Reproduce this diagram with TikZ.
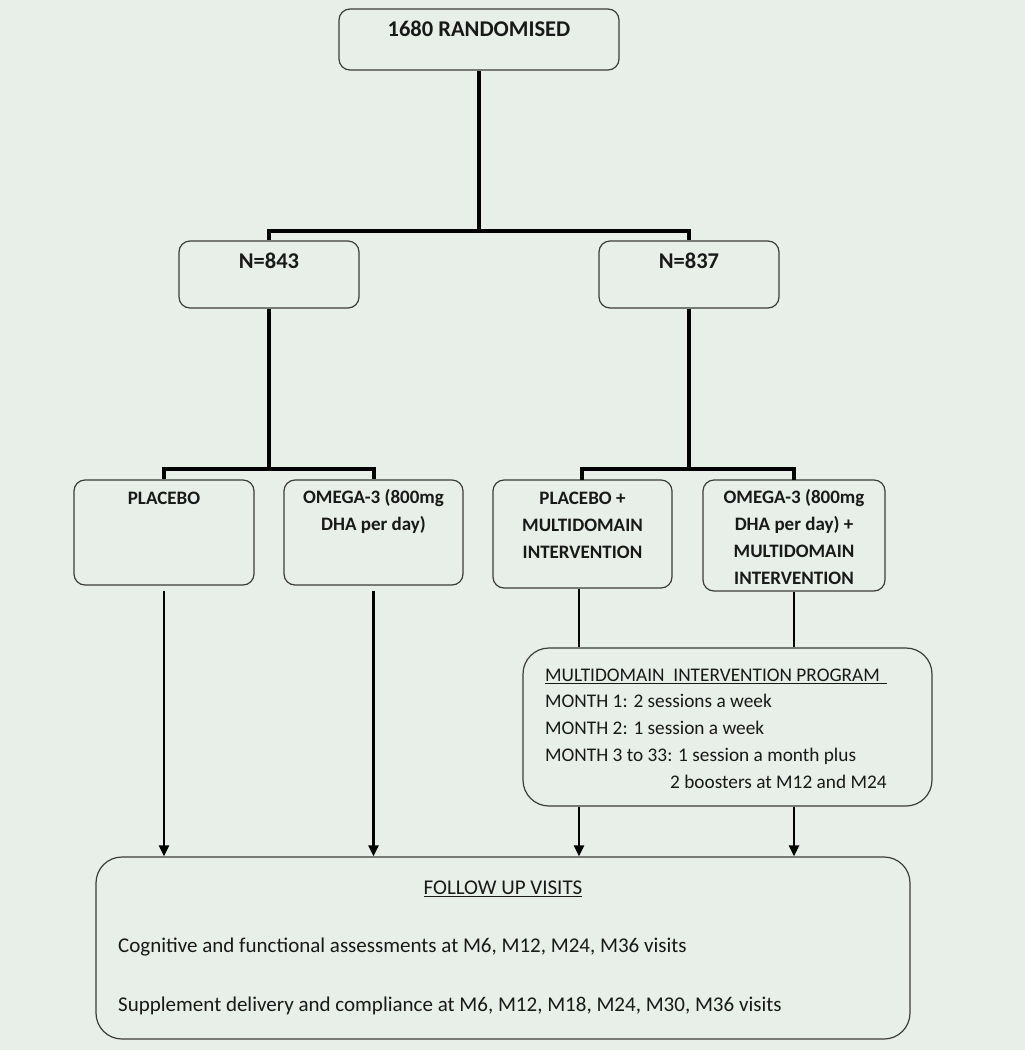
\documentclass[tikz,border=0pt]{standalone}
\usepackage{fontspec}
\setmainfont{Carlito}
\usetikzlibrary{arrows.meta}
\definecolor{bg}{RGB}{232,238,232}
\definecolor{ink}{RGB}{25,25,25}
\definecolor{edge}{RGB}{60,60,60}
\tikzset{
  box/.style={draw=edge, line width=1.2pt, rounded corners=11pt, inner sep=0pt},
  bigbox/.style={box, rounded corners=26pt},
  txt/.style={text=ink, inner sep=0pt, align=center, font=\fontsize{19}{27}\selectfont},
  bigtxt/.style={txt, font=\fontsize{22.5}{27}\selectfont},
  ltxt/.style={txt, align=left},
  futxt/.style={txt, align=left, font=\fontsize{21}{27}\selectfont},
  conn/.style={line width=4pt},
  thin/.style={line width=2.6pt},
  arr/.style={thin, -{Triangle[length=11pt,width=10pt]}},
}
\begin{document}
\begin{tikzpicture}[x=1pt,y=-1pt]
\fill[bg] (0,0) rectangle (1025,1050);
\useasboundingbox (0,0) rectangle (1025,1050);
% boxes
\node[box, minimum width=280pt, minimum height=61pt] (top) at (479,39.5) {};
\node[box, minimum width=180pt, minimum height=67pt] (n843) at (269,274.5) {};
\node[box, minimum width=180pt, minimum height=67pt] (n837) at (689,274.5) {};
\node[box, minimum width=180pt, minimum height=105pt] (pl) at (164,532.5) {};
\node[box, minimum width=179pt, minimum height=105pt] (om) at (373.5,532.5) {};
\node[box, minimum width=179pt, minimum height=108pt] (plmi) at (582.5,534) {};
\node[box, minimum width=182pt, minimum height=111pt] (ommi) at (794,535.5) {};
\node[bigbox, minimum width=409pt, minimum height=158pt] (mip) at (727.5,727) {};
\node[bigbox, minimum width=814pt, minimum height=182pt] (fu) at (503,948) {};
% texts
\node[bigtxt, anchor=north] (ttop) at (top.north) [yshift=-12.5pt] {\textbf{1680 RANDOMISED}};
\node[bigtxt, anchor=north] (t843) at (n843.north) [yshift=-12pt] {\textbf{N=843}};
\node[bigtxt, anchor=north] (t837) at (n837.north) [yshift=-12pt] {\textbf{N=837}};
\node[txt, anchor=north] (tpl) at (pl.north) [yshift=-12.5pt] {\textbf{PLACEBO}};
\node[txt, anchor=north] (tom) at (om.north) [yshift=-10pt] {\textbf{OMEGA-3 (800mg}\\\textbf{DHA per day)}};
\node[txt, anchor=north] (tplmi) at (plmi.north) [yshift=-12.5pt] {\textbf{PLACEBO +}\\\textbf{MULTIDOMAIN}\\\textbf{INTERVENTION}};
\node[txt, anchor=north] (tommi) at (ommi.north) [yshift=-10pt] {\textbf{OMEGA-3 (800mg}\\\textbf{DHA per day) +}\\\textbf{MULTIDOMAIN}\\\textbf{INTERVENTION}};
\node[ltxt, anchor=north west, font=\fontsize{19.3}{26.75}\selectfont] (tmip) at (545,668.5) {\underline{MULTIDOMAIN\ \ INTERVENTION PROGRAM\ \,}\\MONTH 1: 2 sessions a week\\MONTH 2: 1 session a week\\MONTH 3 to 33: 1 session a month plus\\\hspace*{125pt}2 boosters at M12 and M24};
\node[futxt, anchor=north] (tfu) at (503,880.5) {\underline{FOLLOW UP VISITS}};
\node[futxt, anchor=north west] (tfu1) at (118,938) {Cognitive and functional assessments at M6, M12, M24, M36 visits};
\node[futxt, anchor=north west] (tfu2) at (118,997) {Supplement delivery and compliance at M6, M12, M18, M24, M30, M36 visits};
% tree connectors
\draw[conn] (top.south) |- (479,231) -| (n843.north);
\draw[conn] (479,231) -| (n837.north);
\draw[conn] (n843.south) -- (269,469) -| (pl.north);
\draw[conn] (269,469) -| (om.north);
\draw[conn] (n837.south) -- (689,469) -| (582,480);
\draw[conn] (689,469) -| (794,480);
% arrows
\draw[arr, shorten <=5pt] (pl.south) -- (pl.south |- fu.north);
\draw[arr, shorten <=5pt] (om.south) -- (om.south |- fu.north);
\draw[thin] ([xshift=-3.5pt]plmi.south) -- ([xshift=-3.5pt]plmi.south |- mip.north);
\draw[thin] (ommi.south) -- (ommi.south |- mip.north);
\draw[arr] ([xshift=-3.5pt]plmi.south |- mip.south) -- ([xshift=-3.5pt]plmi.south |- fu.north);
\draw[arr] (ommi.south |- mip.south) -- (ommi.south |- fu.north);
\end{tikzpicture}
\end{document}
